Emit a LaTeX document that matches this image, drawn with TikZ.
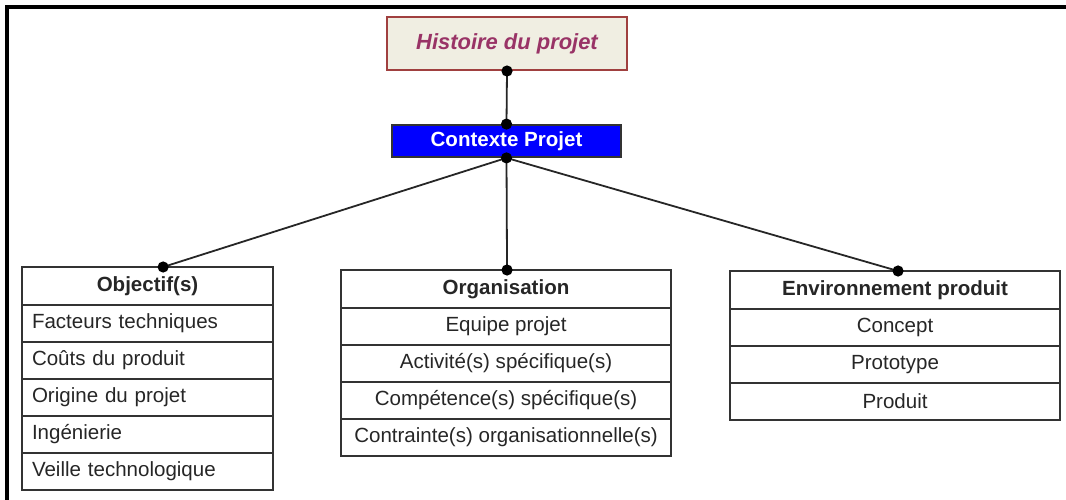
\documentclass[tikz,border=0pt]{standalone}
\usepackage{fontspec}
\setmainfont{Liberation Sans}
\usetikzlibrary{positioning}
\definecolor{histfill}{HTML}{F0EEE2}
\definecolor{histdraw}{HTML}{A0403F}
\definecolor{histtext}{HTML}{993366}
\definecolor{ctxfill}{HTML}{0000FF}
\definecolor{tabline}{HTML}{333333}
\tikzset{
  cell/.style={rectangle, draw=tabline, line width=0.045cm, outer sep=0pt, inner sep=0pt,
    minimum height=0.925cm, text=black!85, font=\fontsize{14.6}{17}\selectfont},
  head/.style={cell, minimum height=0.95cm, font=\fontsize{14.6}{17}\selectfont\bfseries},
  leftcell/.style={cell, inner xsep=0.25cm, text width=5.775cm, align=left},
  link/.style={line width=0.045cm, draw=black!85},
}
\begin{document}
\begin{tikzpicture}[x=0.025cm,y=-0.025cm]
  \useasboundingbox (0,0) rectangle (1066,500);
  % Drawing frame
  \draw [line width=0.075cm] (7,500) -- (7,7) -- (1066,7);

  % Drawing title boxes
  \node [rectangle, draw=histdraw, fill=histfill, line width=0.05cm, minimum width=6cm,
    minimum height=1.325cm, font=\fontsize{15.6}{18}\selectfont\bfseries\itshape,
    text=histtext] (hist) at (507,43.5) {Histoire du projet};
  \node [rectangle, draw=tabline, fill=ctxfill, line width=0.045cm, minimum width=5.725cm,
    minimum height=0.8cm, font=\fontsize{14.6}{17}\selectfont\bfseries,
    text=white] (ctx) at (506.5,141) {Contexte Projet};

  % Drawing table Objectif(s)
  \node [head, minimum width=6.275cm, anchor=north west] (obj) at (22,267) {Objectif(s)};
  \node [leftcell, below=0pt of obj] (obj1) {Facteurs techniques};
  \node [leftcell, below=0pt of obj1] (obj2) {Coûts du produit};
  \node [leftcell, below=0pt of obj2] (obj3) {Origine du projet};
  \node [leftcell, below=0pt of obj3] (obj4) {Ingénierie};
  \node [leftcell, below=0pt of obj4] (obj5) {Veille technologique};

  % Drawing table Organisation
  \node [head, minimum width=8.25cm, anchor=north west] (org) at (341,270) {Organisation};
  \node [cell, minimum width=8.25cm, below=0pt of org] (org1) {Equipe projet};
  \node [cell, minimum width=8.25cm, below=0pt of org1] (org2) {Activité(s) spécifique(s)};
  \node [cell, minimum width=8.25cm, below=0pt of org2] (org3) {Compétence(s) spécifique(s)};
  \node [cell, minimum width=8.25cm, below=0pt of org3] (org4) {Contrainte(s) organisationnelle(s)};

  % Drawing table Environnement produit
  \node [head, minimum width=8.25cm, anchor=north west] (env) at (730,271) {Environnement produit};
  \node [cell, minimum width=8.25cm, below=0pt of env] (env1) {Concept};
  \node [cell, minimum width=8.25cm, below=0pt of env1] (env2) {Prototype};
  \node [cell, minimum width=8.25cm, below=0pt of env2] (env3) {Produit};

  % Drawing links
  \draw [link] (hist.south) -- (ctx.north);
  \draw [link] (ctx.south) -- ([xshift=0.39cm]obj.north);
  \draw [link] (ctx.south) -- ([xshift=0.025cm]org.north);
  \draw [link] (ctx.south) -- ([xshift=0.075cm]env.north);

  % Marking link ends by dots
  \fill (hist.south) circle [radius=0.14cm];
  \fill (ctx.north) circle [radius=0.14cm];
  \fill (ctx.south) circle [radius=0.14cm];
  \fill ([xshift=0.39cm]obj.north) circle [radius=0.14cm];
  \fill ([xshift=0.025cm]org.north) circle [radius=0.14cm];
  \fill ([xshift=0.075cm]env.north) circle [radius=0.14cm];
\end{tikzpicture}
\end{document}
